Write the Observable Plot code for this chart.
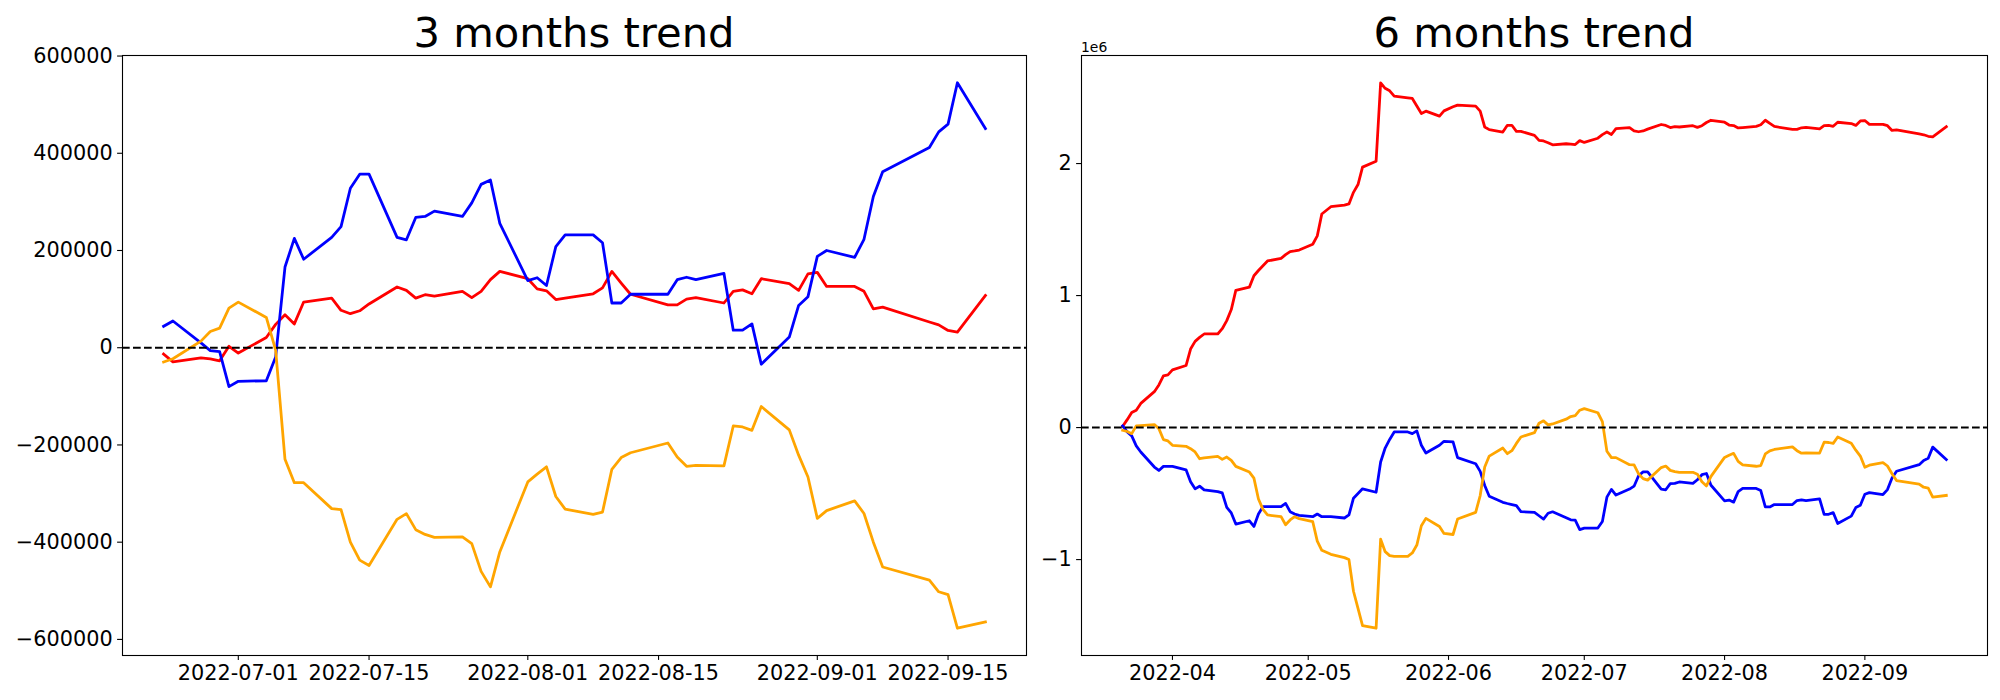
<!DOCTYPE html>
<html><head><meta charset="utf-8">
<script src="https://cdn.jsdelivr.net/npm/d3@7"></script>
<script src="https://cdn.jsdelivr.net/npm/@observablehq/plot@0.6"></script>
<style>
html,body{margin:0;padding:0;background:#fff;}
#root{position:relative;width:2000px;height:700px;background:#fff;overflow:hidden;}
#left,#right{position:absolute;top:0;}
#left{left:0;} #right{left:1030px;}
#overlay{position:absolute;left:0;top:0;pointer-events:none;}
</style></head><body>
<div id="root"><div id="left"></div><div id="right"></div><svg id="overlay" width="2000" height="700"></svg></div>
<script>
// ---------- 3 months panel ----------
const dates3m = [
"2022-06-23","2022-06-24","2022-06-27","2022-06-28","2022-06-29","2022-06-30",
"2022-07-01","2022-07-04","2022-07-05","2022-07-06","2022-07-07","2022-07-08",
"2022-07-11","2022-07-12","2022-07-13","2022-07-14","2022-07-15",
"2022-07-18","2022-07-19","2022-07-20","2022-07-21","2022-07-22",
"2022-07-25","2022-07-26","2022-07-27","2022-07-28","2022-07-29",
"2022-08-01","2022-08-02","2022-08-03","2022-08-04","2022-08-05",
"2022-08-08","2022-08-09","2022-08-10","2022-08-11","2022-08-12",
"2022-08-16","2022-08-17","2022-08-18","2022-08-19",
"2022-08-22","2022-08-23","2022-08-24","2022-08-25","2022-08-26",
"2022-08-29","2022-08-30","2022-08-31","2022-09-01","2022-09-02",
"2022-09-05","2022-09-06","2022-09-07","2022-09-08",
"2022-09-13","2022-09-14","2022-09-15","2022-09-16","2022-09-19"];
const red3m = [
-13000,-29000,-21000,-23000,-27000,3000,
-11000,21000,48000,68000,49000,94000,
102000,77000,70000,76000,90000,
125000,118000,102000,109000,106000,
116000,103000,116000,140000,157000,
142000,121000,117000,99000,102000,
111000,123000,157000,133000,110000,
88000,88000,100000,103000,
92000,116000,119000,111000,142000,
132000,118000,152000,155000,126000,
126000,116000,80000,83500,
53000,47000,35500,32000,107500];
const blue3m = [
44000,55000,10000,-6000,-8000,-80000,
-69000,-68000,-19000,166000,225000,182000,
227000,249000,328000,357000,357000,
227000,222000,268000,270000,281000,
270000,298000,336000,345000,256000,
138000,144000,128000,208000,232000,
232000,216000,92000,92000,110000,
110000,140000,145000,140000,
153000,36000,36000,49000,-34000,
22000,87000,105000,188000,200000,
186000,223000,311000,362000,
412000,444000,460000,545000,451000];
const orange3m = [
-29500,-22700,13600,33500,40400,81500,
93800,62300,-5000,-229600,-277600,-277600,
-331000,-333100,-400000,-437000,-448000,
-353000,-341300,-374200,-384000,-390000,
-389000,-403000,-460000,-492000,-420000,
-276000,-260000,-245000,-306000,-332000,
-343000,-338000,-250000,-226000,-216000,
-196000,-225000,-244000,-242000,
-243000,-161000,-163000,-170000,-121000,
-169000,-221000,-266000,-351000,-335000,
-315000,-341000,-400000,-451000,
-478000,-502000,-508000,-577000,-564000];
const xTicks3m = ["2022-07-01","2022-07-15","2022-08-01","2022-08-15","2022-09-01","2022-09-15"];
const yTicks3m = [-600000,-400000,-200000,0,200000,400000,600000];

// ---------- 6 months panel ----------
const datesEarly6m = [
"2022-03-21","2022-03-22","2022-03-23","2022-03-24","2022-03-25",
"2022-03-28","2022-03-29","2022-03-30","2022-03-31","2022-04-01",
"2022-04-04","2022-04-05","2022-04-06","2022-04-07","2022-04-08",
"2022-04-11","2022-04-12","2022-04-13","2022-04-14","2022-04-15",
"2022-04-18","2022-04-19","2022-04-20","2022-04-21","2022-04-22",
"2022-04-25","2022-04-26","2022-04-27","2022-04-28","2022-04-29",
"2022-05-02","2022-05-03","2022-05-04","2022-05-06",
"2022-05-09","2022-05-10","2022-05-11","2022-05-12","2022-05-13",
"2022-05-16","2022-05-17","2022-05-18","2022-05-19","2022-05-20",
"2022-05-23","2022-05-24","2022-05-25","2022-05-26","2022-05-27",
"2022-05-30","2022-05-31","2022-06-02","2022-06-03",
"2022-06-07","2022-06-08","2022-06-09","2022-06-10",
"2022-06-13","2022-06-14","2022-06-15","2022-06-16","2022-06-17",
"2022-06-20","2022-06-21","2022-06-22"];
const dates6m = datesEarly6m.concat(dates3m);
const red6m = [
10000,60000,114000,132000,183000,
272000,323000,391000,399000,437000,
470000,595000,653000,683000,709000,
709000,749000,810000,894000,1039000,
1064000,1150000,1190000,1226000,1262000,
1282000,1310000,1333000,1338000,1345000,
1389000,1452000,1618000,1673000,
1685000,1694000,1782000,1841000,1973000,
2018000,2612000,2570000,2551000,2511000,
2497000,2493000,2436000,2379000,2397000,
2359000,2399000,2430000,2443000,
2435000,2397000,2277000,2257000,
2239000,2290000,2290000,2244000,2244000,
2214000,2176000,2171000,
2158000,2142000,2150000,2148000,2144000,2174000,
2160000,2192000,2219000,2239000,2220000,2265000,
2273000,2248000,2241000,2247000,2261000,
2296000,2289000,2273000,2280000,2277000,
2287000,2274000,2287000,2311000,2328000,
2313000,2292000,2288000,2270000,2273000,
2282000,2294000,2328000,2304000,2281000,
2259000,2259000,2271000,2274000,
2263000,2287000,2290000,2282000,2313000,
2303000,2289000,2323000,2326000,2297000,
2297000,2287000,2251000,2254500,
2224000,2218000,2206500,2203000,2278500];
const blue6m = [
13000,-33000,-63000,-139000,-185000,
-299000,-325000,-294000,-294000,-294000,
-320000,-410000,-464000,-444000,-472000,
-485000,-495000,-604000,-647000,-731000,
-706000,-749000,-655000,-599000,-599000,
-599000,-574000,-637000,-655000,-665000,
-675000,-655000,-675000,-675000,
-685000,-662000,-535000,-500000,-464000,
-490000,-261000,-155000,-90000,-33000,
-33000,-46000,-25000,-134000,-193000,
-134000,-104000,-109000,-228000,
-274000,-332000,-439000,-520000,
-566000,-575000,-583000,-591000,-637000,
-642000,-668000,-693000,
-649000,-638000,-683000,-699000,-701000,-773000,
-762000,-761000,-712000,-527000,-468000,-511000,
-466000,-444000,-365000,-336000,-336000,
-466000,-471000,-425000,-423000,-412000,
-423000,-395000,-357000,-348000,-437000,
-555000,-549000,-565000,-485000,-461000,
-461000,-477000,-601000,-601000,-583000,
-583000,-553000,-548000,-553000,
-540000,-657000,-657000,-644000,-727000,
-671000,-606000,-588000,-505000,-493000,
-507000,-470000,-382000,-331000,
-281000,-249000,-233000,-148000,-242000];
const orange6m = [
-20000,-30000,-46000,13000,15000,
23000,-8000,-91000,-101000,-134000,
-142000,-160000,-185000,-236000,-230000,
-218000,-241000,-223000,-248000,-294000,
-337000,-383000,-541000,-620000,-662000,
-675000,-736000,-700000,-675000,-690000,
-713000,-860000,-930000,-960000,
-985000,-1000000,-1240000,-1370000,-1500000,
-1520000,-845000,-940000,-970000,-975000,
-975000,-950000,-890000,-744000,-688000,
-749000,-802000,-810000,-693000,
-642000,-515000,-299000,-216000,
-155000,-198000,-175000,-120000,-71000,
-38000,33000,51000,
20500,27300,63600,83500,90400,131500,
143800,112300,45000,-179600,-227600,-227600,
-281000,-283100,-350000,-387000,-398000,
-303000,-291300,-324200,-334000,-340000,
-339000,-353000,-410000,-442000,-370000,
-226000,-210000,-195000,-256000,-282000,
-293000,-288000,-200000,-176000,-166000,
-146000,-175000,-194000,-192000,
-193000,-111000,-113000,-120000,-71000,
-119000,-171000,-216000,-301000,-285000,
-265000,-291000,-350000,-401000,
-428000,-452000,-458000,-527000,-514000];
const xTicks6m = ["2022-04-01","2022-05-01","2022-06-01","2022-07-01","2022-08-01","2022-09-01"];
const yTicks6m = [-1000000,0,1000000,2000000];

const titles = ["3 months trend", "6 months trend"];
const seriesColors = ["red", "blue", "orange"];

const parse = d3.utcParse("%Y-%m-%d");
const minus = v => (v < 0 ? "\u2212" + Math.abs(v) : String(v));

function build(dates, valueSets, cfg) {
  const xs = dates.map(parse);
  const xmin = d3.min(xs), xmax = d3.max(xs), span = xmax - xmin;
  const all = [].concat(...valueSets);
  const ymin = d3.min(all), ymax = d3.max(all), ys = ymax - ymin;
  const lines = valueSets.map((vals, k) =>
    Plot.line(vals.map((v, i) => ({date: xs[i], value: v})), {
      x: "date", y: "value", stroke: seriesColors[k], strokeWidth: 2.78,
      strokeLinejoin: "round", strokeLinecap: "square"
    }));
  return Plot.plot({
    width: cfg.width, height: 700,
    marginLeft: cfg.ml, marginRight: cfg.mr, marginTop: 55, marginBottom: 45,
    style: {fontFamily: "DejaVu Sans", fontSize: "20.8px", color: "black", background: "white", overflow: "visible"},
    x: {type: "utc", domain: [new Date(+xmin - 0.05 * span), new Date(+xmax + 0.05 * span)]},
    y: {domain: [ymin - 0.05 * ys, ymax + 0.05 * ys]},
    marks: [
      ...lines,
      Plot.ruleY([0], {stroke: "black", strokeWidth: 2.08, strokeDasharray: "7.7,3.3"}),
      Plot.axisX({ticks: cfg.xticks.map(parse), tickFormat: d3.utcFormat(cfg.xfmt),
        tickSize: 4.9, tickPadding: 4.9, label: null, fontSize: 20.8, strokeWidth: 1.1}),
      Plot.axisY({ticks: cfg.yticks, tickFormat: cfg.yfmt,
        tickSize: 4.9, tickPadding: 4.9, label: null, fontSize: 20.8, strokeWidth: 1.1}),
      Plot.frame({stroke: "black", strokeWidth: 1.1})
    ]
  });
}

document.getElementById("left").append(build(dates3m, [red3m, blue3m, orange3m], {
  width: 1030, ml: 122, mr: 4, xticks: xTicks3m, xfmt: "%Y-%m-%d",
  yticks: yTicks3m, yfmt: minus
}));
document.getElementById("right").append(build(dates6m, [red6m, blue6m, orange6m], {
  width: 970, ml: 51, mr: 13, xticks: xTicks6m, xfmt: "%Y-%m",
  yticks: yTicks6m, yfmt: v => minus(v / 1e6)
}));

const ov = d3.select("#overlay");
[[574, titles[0]], [1534, titles[1]]].forEach(([cx, t]) => {
  ov.append("text").attr("x", cx).attr("y", 46.7).attr("text-anchor", "middle")
    .attr("font-family", "DejaVu Sans").attr("font-size", 41.7).attr("fill", "black").text(t);
});
ov.append("text").attr("x", 1081).attr("y", 51.7).attr("font-family", "DejaVu Sans")
  .attr("font-size", 13.9).attr("fill", "black").text("1e6");
</script>
</body></html>
